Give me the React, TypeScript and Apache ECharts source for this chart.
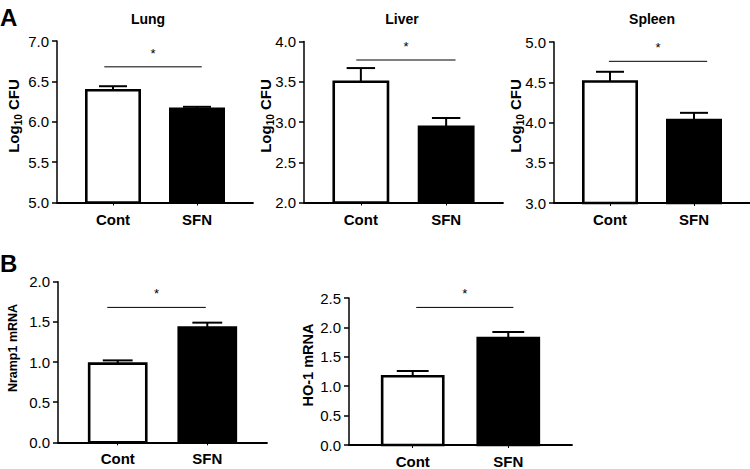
import React, { useEffect, useRef } from "react";
import * as echarts from "echarts";

// ---- data ----
const categories = ["Cont", "SFN"];
const categoryPos = [2, 5]; // positions of the two groups on a 0–7 x scale

const lungMean = [6.39, 6.16];
const lungSem = [0.05, 0.025];
const liverMean = [3.5, 2.94];
const liverSem = [0.17, 0.11];
const spleenMean = [4.51, 4.03];
const spleenSem = [0.12, 0.09];
const nrampMean = [0.98, 1.43];
const nrampSem = [0.04, 0.06];
const hoMean = [1.17, 1.82];
const hoSem = [0.09, 0.1];

const panelTitles = ["Lung", "Liver", "Spleen", "", ""];
const yRanges = [
  [5, 7],
  [2, 4],
  [3, 5],
  [0, 2],
  [0, 2.5],
];
const yInterval = 0.5;
// significance brackets: [x start, y level, x end] in axis units
const sigBrackets = [
  [1.69, 6.68, 5.17],
  [1.84, 3.77, 5.33],
  [1.96, 4.76, 5.47],
  [1.65, 1.68, 4.95],
  [2.11, 2.34, 5.16],
];
const sigLabel = "*";

const means = [lungMean, liverMean, spleenMean, nrampMean, hoMean];
const sems = [lungSem, liverSem, spleenSem, nrampSem, hoSem];

// ---- layout ----
const FONT = "'Liberation Sans', Arial, Helvetica, sans-serif";
const grids = [
  { left: 57, top: 41, width: 196, height: 161.5 },
  { left: 304, top: 41.5, width: 199, height: 161 },
  { left: 554, top: 42, width: 196, height: 161 },
  { left: 58, top: 281.7, width: 209, height: 160.6 },
  { left: 349, top: 298, width: 223, height: 147 },
];

export default function App() {
  const ref = useRef<HTMLDivElement>(null);

  useEffect(() => {
    if (!ref.current) return;
    const chart = echarts.init(ref.current, undefined, { renderer: "svg" });

    const xAxes: any[] = [];
    const yAxes: any[] = [];
    const series: any[] = [];

    grids.forEach((g, i) => {
      const [ymin, ymax] = yRanges[i];
      xAxes.push({
        gridIndex: i,
        type: "value",
        min: 0,
        max: 7,
        splitLine: { show: false },
        axisLine: { show: true, lineStyle: { color: "#000", width: 1.8 } },
        axisTick: {
          show: true,
          customValues: categoryPos,
          length: 3,
          lineStyle: { color: "#000", width: 1 },
        },
        axisLabel: {
          customValues: categoryPos,
          formatter: (v: number) => categories[categoryPos.indexOf(v)] ?? "",
          color: "#000",
          fontFamily: FONT,
          fontSize: 15,
          fontWeight: "bold",
          margin: 9,
        },
      });
      yAxes.push({
        gridIndex: i,
        type: "value",
        min: ymin,
        max: ymax,
        interval: yInterval,
        splitLine: { show: false },
        axisLine: { show: true, lineStyle: { color: "#000", width: 1.5 } },
        axisTick: { show: true, length: 5, lineStyle: { color: "#000", width: 1.5 } },
        axisLabel: {
          color: "#000",
          fontFamily: FONT,
          fontSize: 15,
          margin: 8,
          formatter: (v: number) => v.toFixed(1),
        },
      });

      const barData = means[i].map((m, k) => [categoryPos[k], m]);
      const errData = means[i].map((m, k) => [categoryPos[k], m, sems[i][k]]);

      series.push({
        type: "custom",
        xAxisIndex: i,
        yAxisIndex: i,
        clip: false,
        data: barData,
        renderItem: (params: any, api: any) => {
          const x = api.value(0);
          const v = api.value(1);
          const lw = 2.6;
          const p1 = api.coord([x - 1, v]);
          const p2 = api.coord([x + 1, ymin]);
          return {
            type: "rect",
            shape: {
              x: p1[0] + lw / 2,
              y: p1[1],
              width: p2[0] - p1[0] - lw,
              height: p2[1] - p1[1],
            },
            style: {
              fill: params.dataIndex === 0 ? "#ffffff" : "#000000",
              stroke: "#000",
              lineWidth: lw,
            },
          };
        },
      });

      series.push({
        type: "custom",
        xAxisIndex: i,
        yAxisIndex: i,
        clip: false,
        data: errData,
        renderItem: (params: any, api: any) => {
          const x = api.value(0);
          const v = api.value(1);
          const e = api.value(2);
          const base = api.coord([x, v]);
          const top = api.coord([x, v + e]);
          const c1 = api.coord([x - 0.5, v + e]);
          const c2 = api.coord([x + 0.5, v + e]);
          const st = { stroke: "#000", lineWidth: 2 };
          return {
            type: "group",
            children: [
              { type: "line", shape: { x1: base[0], y1: base[1], x2: top[0], y2: top[1] }, style: st },
              { type: "line", shape: { x1: c1[0], y1: c1[1], x2: c2[0], y2: c2[1] }, style: st },
            ],
          };
        },
      });

      series.push({
        type: "custom",
        xAxisIndex: i,
        yAxisIndex: i,
        clip: false,
        data: [sigBrackets[i]],
        renderItem: (params: any, api: any) => {
          const x1 = api.value(0);
          const y = api.value(1);
          const x2 = api.value(2);
          const a = api.coord([x1, y]);
          const b = api.coord([x2, y]);
          return {
            type: "group",
            children: [
              {
                type: "line",
                shape: { x1: a[0], y1: a[1], x2: b[0], y2: b[1] },
                style: { stroke: "#000", lineWidth: 1 },
              },
              {
                type: "text",
                x: (a[0] + b[0]) / 2,
                y: a[1] - 7,
                style: {
                  text: sigLabel,
                  fill: "#000",
                  fontSize: 13,
                  fontFamily: FONT,
                  align: "center",
                  verticalAlign: "bottom",
                },
              },
            ],
          };
        },
      });
    });

    const titleCenters = [148, 402, 652];
    const graphics: any[] = [];
    titleCenters.forEach((cx, i) => {
      graphics.push({
        type: "text",
        x: cx,
        y: 19,
        style: {
          text: panelTitles[i],
          fill: "#000",
          font: `bold 14px ${FONT}`,
          align: "center",
          verticalAlign: "middle",
        },
      });
    });
    graphics.push({
      type: "text",
      x: 0,
      y: 17,
      style: { text: "A", fill: "#000", font: `bold 24px ${FONT}`, align: "left", verticalAlign: "middle" },
    });
    graphics.push({
      type: "text",
      x: 0,
      y: 263,
      style: { text: "B", fill: "#000", font: `bold 24px ${FONT}`, align: "left", verticalAlign: "middle" },
    });
    const logRich = {
      a: { fontSize: 15, lineHeight: 15, fontWeight: "bold", fontFamily: FONT, fill: "#000", color: "#000" },
      s: {
        fontSize: 10,
        lineHeight: 10,
        fontWeight: "bold",
        fontFamily: FONT,
        fill: "#000",
        color: "#000",
        verticalAlign: "top",
        padding: [8, 0, 0, 0],
      },
    };
    [13, 265, 515].forEach((cx) => {
      graphics.push({
        type: "text",
        x: cx,
        y: 116,
        rotation: Math.PI / 2,
        style: {
          text: "{a|Log}{s|10}{a| CFU}",
          rich: logRich,
          align: "center",
          verticalAlign: "middle",
          fill: "#000",
        },
      });
    });
    graphics.push({
      type: "text",
      x: 13,
      y: 348,
      rotation: Math.PI / 2,
      style: { text: "Nramp1 mRNA", fill: "#000", font: `bold 12.5px ${FONT}`, align: "center", verticalAlign: "middle" },
    });
    graphics.push({
      type: "text",
      x: 308,
      y: 365,
      rotation: Math.PI / 2,
      style: { text: "HO-1 mRNA", fill: "#000", font: `bold 14.5px ${FONT}`, align: "center", verticalAlign: "middle" },
    });

    chart.setOption({
      animation: false,
      backgroundColor: "#fff",
      textStyle: { fontFamily: FONT },
      grid: grids.map((g) => ({ ...g, containLabel: false, outerBoundsMode: "none" })),
      xAxis: xAxes,
      yAxis: yAxes,
      series,
      graphic: graphics,
    });

    return () => chart.dispose();
  }, []);

  return (
    <div
      ref={ref}
      style={{ position: "fixed", left: 0, top: 0, width: 750, height: 469, background: "#fff" }}
    />
  );
}
